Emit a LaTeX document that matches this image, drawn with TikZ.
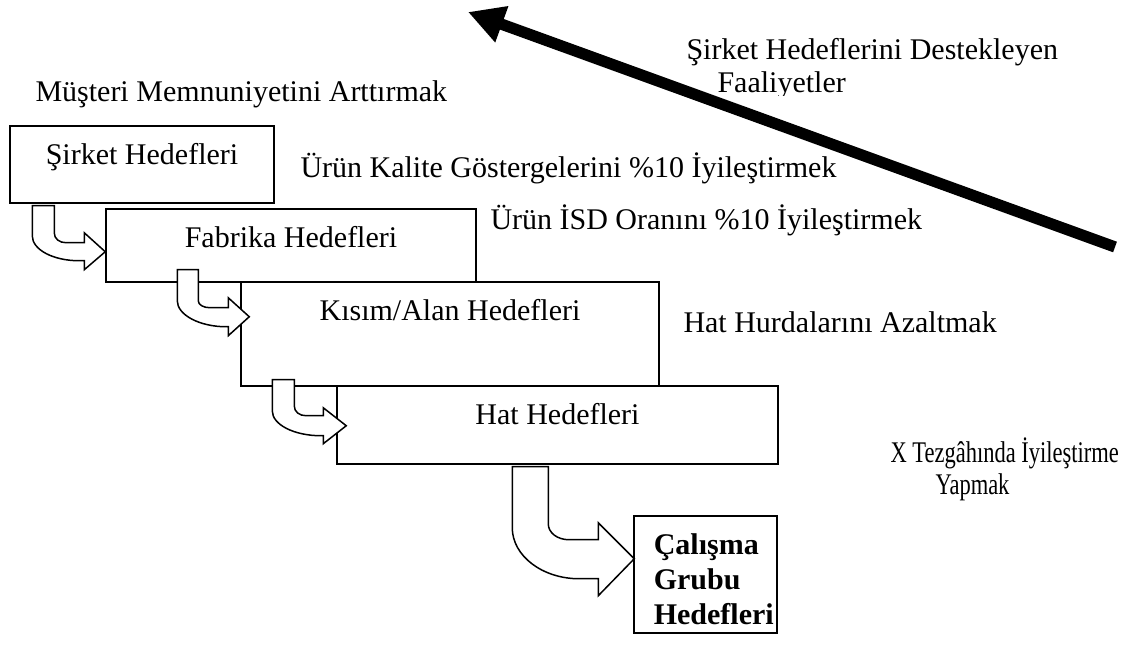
\documentclass[tikz,border=0pt]{standalone}
\usepackage{fontspec}
\setmainfont{Liberation Serif}
\usetikzlibrary{arrows.meta,calc,fit}
\begin{document}
\begin{tikzpicture}[x=0.4pt,y=-0.4pt,
  font=\fontsize{12}{13.8}\selectfont,
  goalbox/.style={draw=black,line width=0.6pt,fill=white,inner sep=0pt},
  boxtext/.style={anchor=base,inner sep=0pt},
  note/.style={anchor=base west,inner sep=0pt},
  blockarrow/.style={draw=black,line width=0.6pt,fill=white,line join=miter},
  risearrow/.style={draw=black,line width=4.5pt,-{Triangle[length=14.4pt,width=14.4pt]}}]
\useasboundingbox (0,0) rectangle (1125,664);

% goal boxes, one level per step
\node[goalbox,fit={(10,126)(274,203)}] (sirket) {};
\node[goalbox,fit={(106,209)(476,282)}] (fabrika) {};
\node[goalbox,fit={(241,282)(659,386)}] (kisim) {};
\node[goalbox,fit={(337,386)(778,464)}] (hat) {};
\node[goalbox,fit={(634,516)(777,633)}] (grup) {};

\node[boxtext] (sirketlbl) at ($(sirket.north)+(0,39)$) {Şirket Hedefleri};
\node[boxtext] (fabrikalbl) at ($(fabrika.north)+(0,39)$) {Fabrika Hedefleri};
\node[boxtext] (kisimlbl) at ($(kisim.north)+(0,39)$) {Kısım/Alan Hedefleri};
\node[boxtext] (hatlbl) at ($(hat.north)+(0,39)$) {Hat Hedefleri};
\node[note,font=\fontsize{12}{13.8}\selectfont\bfseries] (gruplblA) at ($(grup.north west)+(20,39)$) {Çalışma};
\node[note,font=\fontsize{12}{13.8}\selectfont\bfseries] (gruplblB) at ($(grup.north west)+(20,74)$) {Grubu};
\node[note,font=\fontsize{12}{13.8}\selectfont\bfseries] (gruplblC) at ($(grup.north west)+(20,109)$) {Hedefleri};

% bent block arrows from each level down to the next
\begin{scope}[shift={(sirket.south west)}]
  \path[blockarrow] (23,2) -- (45,2) -- (45,29) .. controls (45,35) and (50,39) .. (57,39)
    -- (75,39) -- (75,29) -- (96,48) -- (75,66) -- (75,57) -- (70,57)
    .. controls (44,57) and (23,46) .. (23,32) -- cycle;
\end{scope}
\begin{scope}[shift={(fabrika.south west)}]
  \path[blockarrow] (72,-13) -- (93,-13) -- (93,18) .. controls (93,22) and (98,25) .. (105,25)
    -- (123,25) -- (123,15) -- (144,34) -- (123,53) -- (123,44) -- (121,44)
    .. controls (94,44) and (72,32) .. (72,18) -- cycle;
\end{scope}
\begin{scope}[shift={(kisim.south west)}]
  \path[blockarrow] (32,-7) -- (54,-7) -- (54,19) .. controls (54,25) and (59,29) .. (66,29)
    -- (83,29) -- (83,21) -- (106,39) -- (83,57) -- (83,49) -- (81,49)
    .. controls (54,49) and (32,38) .. (32,24) -- cycle;
\end{scope}
\begin{scope}[shift={(hat.south west)}]
  \path[blockarrow] (176,2) -- (212,2) -- (212,59) .. controls (212,68) and (221,75) .. (233,75)
    -- (262,75) -- (262,58) -- (298,94) -- (262,131) -- (262,114) -- (243,114)
    .. controls (206,114) and (176,91) .. (176,63) -- cycle;
\end{scope}

% goals written beside each level
\node[note] (musteri) at (35,102) {Müşteri Memnuniyetini Arttırmak};
\node[note] (kalite) at (300,178) {Ürün Kalite Göstergelerini \%10 İyileştirmek};
\node[note] (isd) at (490,230) {Ürün İSD Oranını \%10 İyileştirmek};
\node[note] (hurda) at (683,333) {Hat Hurdalarını Azaltmak};
\node[note] (tezgahA) at (890,463) {\scalebox{0.75}[1]{X Tezgâhında İyileştirme}};
\node[note] (tezgahB) at (935,495) {\scalebox{0.75}[1]{Yapmak}};
\node[note] (destekA) at (686,60) {Şirket Hedeflerini Destekleyen};
\begin{scope}
  \clip (700,70) rectangle (900,96);
  \node[note] (destekB) at (717,93) {Faaliyetler};
\end{scope}

% supporting activities rise towards the company goals
\coordinate (risetail) at (1115,247);
\coordinate (risetip) at (468,12);
\draw[risearrow] (risetail) -- (risetip);
\end{tikzpicture}
\end{document}
